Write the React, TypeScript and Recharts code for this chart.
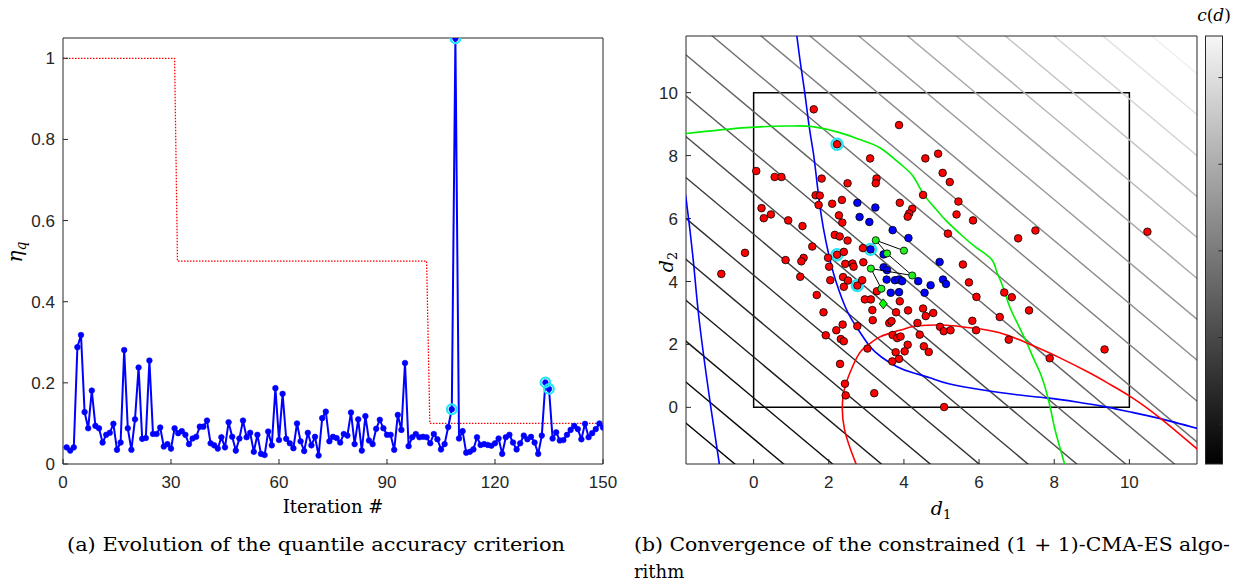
import React from 'react';
import { ComposedChart, Line, Scatter, XAxis, YAxis, ReferenceLine, ReferenceArea } from 'recharts';

// ---------- (a) quantile accuracy criterion ----------
// eta_q for iterations 1..150
const etaValues = [
  0.041, 0.033, 0.041, 0.288, 0.318, 0.128, 0.088, 0.181, 0.094, 0.088,
  0.053, 0.072, 0.077, 0.099, 0.035, 0.053, 0.281, 0.088, 0.035, 0.110,
  0.238, 0.062, 0.064, 0.255, 0.074, 0.074, 0.090, 0.043, 0.049, 0.038,
  0.088, 0.076, 0.081, 0.072, 0.049, 0.063, 0.067, 0.092, 0.092, 0.107,
  0.051, 0.046, 0.038, 0.066, 0.041, 0.103, 0.067, 0.033, 0.063, 0.107,
  0.066, 0.077, 0.030, 0.072, 0.025, 0.022, 0.080, 0.046, 0.187, 0.059,
  0.173, 0.062, 0.051, 0.039, 0.100, 0.056, 0.032, 0.077, 0.046, 0.067,
  0.021, 0.113, 0.129, 0.056, 0.067, 0.064, 0.053, 0.074, 0.070, 0.127,
  0.049, 0.110, 0.033, 0.118, 0.058, 0.049, 0.087, 0.109, 0.088, 0.072,
  0.072, 0.035, 0.121, 0.084, 0.249, 0.044, 0.066, 0.074, 0.066, 0.067,
  0.066, 0.051, 0.074, 0.061, 0.036, 0.049, 0.091, 0.135, 1.049, 0.063,
  0.081, 0.028, 0.030, 0.036, 0.066, 0.047, 0.049, 0.047, 0.045, 0.051,
  0.063, 0.025, 0.066, 0.072, 0.053, 0.036, 0.051, 0.070, 0.061, 0.067,
  0.053, 0.025, 0.070, 0.201, 0.185, 0.063, 0.078, 0.058, 0.059, 0.072,
  0.084, 0.094, 0.086, 0.061, 0.099, 0.066, 0.076, 0.086, 0.100, 0.090,
];
const highlightedIters = [108, 109, 134, 135];

// red dotted target level
const targetIters = [0, 31, 31.8, 101, 101.9, 150];
const targetLevels = [1, 1, 0.5, 0.5, 0.1, 0.1];

const iterTicks = [0, 30, 60, 90, 120, 150];
const etaTicks = [0, 0.2, 0.4, 0.6, 0.8, 1];

// ---------- (b) constrained (1+1)-CMA-ES ----------
const dTicks = [0, 2, 4, 6, 8, 10];
// contour levels of c(d) = d1 + d2
const costLevels = [-2.3, -1.0, 0.3, 1.6, 2.9, 4.2, 5.5, 6.8, 8.1, 9.4, 10.7, 12.0, 13.3, 14.6, 15.9, 17.2, 18.5, 19.8, 21.1, 22.4];
const colorbarTicks = [0, 5, 10, 15, 20];

// limit-state curves
const blueCurveMain = [
  [1.14, 11.9], [1.25, 10.9], [1.36, 10.0], [1.49, 8.83], [1.6, 8.0], [1.69, 7.1], [1.8, 6.1], [1.92, 5.3],
  [2.05, 4.6], [2.2, 3.97], [2.47, 3.11], [2.74, 2.55], [3.09, 1.94], [3.4, 1.6], [3.8, 1.3], [4.24, 1.1],
  [4.69, 0.94], [5.22, 0.74], [6.1, 0.55], [7.0, 0.4], [7.8, 0.3], [8.6, 0.17], [9.3, 0.03], [10.0, -0.14],
  [10.8, -0.35], [11.9, -0.7],
];
const blueCurveLeft = [[-1.86, 7.0], [-1.79, 6.55], [-1.6, 4.59], [-1.44, 2.68], [-1.13, -0.07], [-0.9, -1.9]];
const greenCurve = [
  [-1.9, 8.69], [-0.19, 8.89], [0.96, 8.94], [1.57, 8.92], [2.29, 8.73], [2.85, 8.5], [3.36, 8.25], [3.89, 7.75],
  [4.24, 7.35], [4.51, 6.8], [4.85, 6.3], [5.15, 5.9], [5.49, 5.52], [5.9, 5.1], [6.32, 4.72], [6.46, 4.35],
  [6.58, 4.0], [6.7, 3.6], [6.83, 3.15], [7.05, 2.6], [7.27, 2.05], [7.47, 1.5], [7.64, 1.05], [7.8, 0.45],
  [7.93, -0.2], [8.03, -0.75], [8.3, -1.9],
];
const redCurve = [
  [2.76, -1.9], [2.42, -0.71], [2.38, 0.35], [2.56, 1.09], [2.82, 1.73], [3.05, 1.98], [3.36, 2.24], [3.89, 2.45],
  [4.24, 2.57], [4.6, 2.61], [5.13, 2.61], [5.76, 2.53], [6.55, 2.37], [7.4, 1.98], [8.07, 1.62], [8.95, 1.09],
  [9.5, 0.72], [10.02, 0.35], [10.82, -0.34], [11.9, -1.42],
];

// samples
const redSamples = [
  [1.6, 9.47], [2.22, 8.36], [3.1, 7.91], [0.07, 7.51], [0.56, 7.32], [0.74, 7.32], [1.81, 7.27], [2.5, 7.12],
  [1.65, 6.74], [1.76, 6.73], [1.73, 6.43], [2.35, 6.59], [2.09, 6.47], [0.21, 6.33], [0.27, 6.01], [0.46, 6.13],
  [0.92, 5.94], [1.3, 5.76], [2.27, 6.1], [2.36, 5.87], [2.16, 5.48], [2.29, 5.43], [2.5, 5.3], [-0.23, 4.91],
  [1.56, 5.11], [1.33, 4.75], [1.98, 4.75], [2.22, 4.85], [2.4, 4.94], [2.91, 5.06], [0.85, 4.68], [1.27, 4.64],
  [1.24, 4.15], [2.01, 4.47], [2.44, 4.56], [2.63, 4.57], [2.66, 4.47], [2.92, 4.61], [2.04, 4.04], [2.38, 4.14],
  [2.51, 4.03], [2.4, 3.83], [2.76, 3.87], [2.89, 4.04], [1.68, 3.57], [2.96, 3.43], [1.86, 3.02], [2.37, 2.63],
  [2.2, 2.45], [2.76, 2.58], [1.92, 2.29], [2.32, 2.17], [2.4, 2.1], [3.03, 1.87], [2.3, 1.38], [2.43, 0.75],
  [2.45, 0.38], [-0.86, 4.24], [3.21, 0.45], [3.87, 8.97], [4.57, 7.91], [4.91, 8.06], [5.03, 7.45], [5.22, 7.16],
  [3.27, 7.27], [3.25, 7.12], [4.51, 6.75], [5.45, 6.54], [3.89, 6.5], [4.22, 6.31], [4.14, 6.16], [4.1, 6.06],
  [5.4, 6.13], [5.84, 5.94], [5.17, 5.52], [3.28, 3.69], [3.12, 3.43], [3.16, 3.09], [3.17, 2.77], [3.89, 3.37],
  [3.79, 3.02], [4.11, 3.08], [4.51, 3.14], [4.78, 3.0], [4.58, 2.9], [3.61, 2.68], [3.67, 2.74], [4.36, 2.68],
  [3.7, 2.3], [3.82, 2.2], [3.91, 2.25], [4.42, 2.31], [4.1, 1.99], [4.02, 1.78], [3.78, 1.75], [3.87, 1.54],
  [3.69, 1.46], [4.53, 1.94], [4.66, 1.76], [5.07, 0.01], [4.96, 2.56], [5.06, 2.42], [5.24, 2.45], [5.57, 4.54],
  [5.73, 3.97], [5.93, 3.51], [5.82, 2.75], [5.92, 2.45], [6.55, 2.87], [7.04, 5.37], [7.5, 5.62], [10.48, 5.58],
  [6.67, 3.65], [6.87, 3.5], [7.33, 3.08], [6.79, 2.15], [7.88, 1.56], [9.34, 1.84],
];
const blueSamples = [
  [2.76, 6.5], [3.24, 6.35], [2.82, 6.05], [3.08, 5.89], [3.7, 5.63], [4.12, 5.38], [3.11, 5.02], [3.46, 4.86],
  [3.46, 4.45], [3.55, 4.36], [3.54, 4.06], [3.76, 4.04], [3.86, 4.06], [3.95, 4.01], [4.38, 4.01], [4.71, 3.88],
  [3.65, 3.64], [3.87, 3.66], [4.55, 3.64], [4.95, 4.62], [5.04, 4.06], [5.12, 3.92],
];
// successive parents (green), joined in order
const parentPath = [[4.0, 4.98], [3.25, 5.31], [3.55, 4.89], [4.22, 4.19], [3.12, 4.41], [3.4, 3.77]];
const finalPoint = [[3.45, 3.29]];
const cyanSamples = [[2.22, 8.36], [2.22, 4.85], [2.76, 3.87], [3.11, 5.02]];

// ---------- tables for recharts ----------
const etaData = etaValues.map((v, i) => ({ x: i + 1, y: v }));
const targetData = targetIters.map((x, i) => ({ x, y: targetLevels[i] }));
const highlightData = highlightedIters.map((it) => ({ x: it, y: etaValues[it - 1] }));
const pts = (a: number[][]) => a.map(([x, y]) => ({ x, y }));

const AX = '#262626';
const tickStyle = { fontSize: 17, fill: AX, fontFamily: '"Liberation Sans", Arial, Helvetica, sans-serif' };
const SERIF = '"DejaVu Serif", "Liberation Serif", serif';
const CB_MIN = -2.3;
const CB_MAX = 22.4;
const grayOf = (c: number) => {
  const t = (c - CB_MIN) / (CB_MAX - CB_MIN);
  const g = Math.round(240 * Math.pow(t, 1.2));
  return `rgb(${g},${g},${g})`;
};

const nothing = () => <g />;
const circleShape = (fill: string, r: number) => (p: any) => (
  <circle cx={p.cx} cy={p.cy} r={r} fill={fill} stroke="#000" strokeWidth={0.8} />
);
const ringShape = (r: number) => (p: any) => (
  <circle cx={p.cx} cy={p.cy} r={r} fill="none" stroke="#22e6f5" strokeWidth={2.2} />
);
const diamondShape = (p: any) => (
  <path d={`M${p.cx},${p.cy - 5}L${p.cx + 4},${p.cy}L${p.cx},${p.cy + 5}L${p.cx - 4},${p.cy}Z`} fill="#00ff00" stroke="#000" strokeWidth={0.8} />
);
const blueDot = (p: any) => <circle key={`d${p.index}`} cx={p.cx} cy={p.cy} r={2.8} fill="#0000ff" stroke="#0000ff" strokeWidth={0.6} />;

const CB_TOP = 36;
const CB_H = 428;
const cbY = (c: number) => CB_TOP + CB_H - (c - CB_MIN) / (CB_MAX - CB_MIN) * CB_H;

export default function App() {
  return (
    <div style={{ position: 'absolute', left: 0, top: 0, width: 1242, height: 583, background: '#fff', overflow: 'hidden' }}>
      <div style={{ position: 'absolute', left: 0, top: 0 }}>
        <ComposedChart width={620} height={583} data={etaData} margin={{ top: 37, right: 16, bottom: 89, left: 0 }}>
          <XAxis dataKey="x" type="number" domain={[0, 150]} ticks={iterTicks} interval={0} allowDataOverflow
            tickSize={-5} tickMargin={17} height={30} stroke={AX} tick={tickStyle} />
          <XAxis xAxisId="top" orientation="top" dataKey="x" type="number" domain={[0, 150]} ticks={iterTicks}
            interval={0} allowDataOverflow tick={false} tickSize={-5} height={1} stroke={AX} />
          <YAxis dataKey="y" type="number" domain={[0, 1.05]} ticks={etaTicks} interval={0} allowDataOverflow
            tickSize={-5} tickMargin={13} width={63} stroke={AX} tick={tickStyle} tickFormatter={(v: number) => String(v)} />
          <YAxis yAxisId="right" orientation="right" type="number" domain={[0, 1.05]} ticks={etaTicks} interval={0}
            allowDataOverflow tick={false} tickSize={-5} width={1} stroke={AX} />
          <Line data={targetData} dataKey="y" stroke="#ff0000" strokeWidth={1.3} strokeDasharray="1.5 1.5"
            dot={false} activeDot={false} isAnimationActive={false} />
          <Line data={etaData} dataKey="y" stroke="#0000ff" strokeWidth={2} dot={blueDot} activeDot={false}
            isAnimationActive={false} />
          <Scatter data={highlightData} dataKey="y" shape={ringShape(4.8)} isAnimationActive={false} />
        </ComposedChart>
      </div>

      <div style={{ position: 'absolute', left: 600, top: 0 }}>
        <ComposedChart width={620} height={583} margin={{ top: 35, right: 22, bottom: 89, left: 0 }}>
          <XAxis dataKey="x" type="number" domain={[-1.8, 11.8]} ticks={dTicks} interval={0} allowDataOverflow
            tickSize={-5} tickMargin={17} height={30} stroke={AX} tick={tickStyle} />
          <XAxis xAxisId="top" orientation="top" dataKey="x" type="number" domain={[-1.8, 11.8]} ticks={dTicks}
            interval={0} allowDataOverflow tick={false} tickSize={-5} height={1} stroke={AX} />
          <YAxis dataKey="y" type="number" domain={[-1.8, 11.8]} ticks={dTicks} interval={0} allowDataOverflow
            tickSize={-5} tickMargin={13} width={86} stroke={AX} tick={tickStyle} />
          <YAxis yAxisId="right" orientation="right" type="number" domain={[-1.8, 11.8]} ticks={dTicks} interval={0}
            allowDataOverflow tick={false} tickSize={-5} width={1} stroke={AX} />
          {costLevels.map((c) => (
            <ReferenceLine key={c} segment={[{ x: -4, y: c + 4 }, { x: c + 4, y: -4 }]} stroke={grayOf(c)}
              strokeWidth={1.4} ifOverflow="hidden" />
          ))}
          <ReferenceArea x1={0} x2={10} y1={0} y2={10} fill="none" fillOpacity={0} stroke="#000" strokeWidth={1.5} />
          <Scatter data={pts(blueCurveLeft)} dataKey="y" shape={nothing} line={{ stroke: '#0000ff', strokeWidth: 1.6 }}
            lineJointType="natural" isAnimationActive={false} />
          <Scatter data={pts(blueCurveMain)} dataKey="y" shape={nothing} line={{ stroke: '#0000ff', strokeWidth: 1.6 }}
            lineJointType="natural" isAnimationActive={false} />
          <Scatter data={pts(greenCurve)} dataKey="y" shape={nothing} line={{ stroke: '#00ee00', strokeWidth: 1.6 }}
            lineJointType="natural" isAnimationActive={false} />
          <Scatter data={pts(redCurve)} dataKey="y" shape={nothing} line={{ stroke: '#ff0000', strokeWidth: 1.6 }}
            lineJointType="natural" isAnimationActive={false} />
          <Scatter data={pts(cyanSamples)} dataKey="y" shape={ringShape(5.6)} isAnimationActive={false} />
          <Scatter data={pts(redSamples)} dataKey="y" shape={circleShape('#ff0000', 3.8)} isAnimationActive={false} />
          <Scatter data={pts(blueSamples)} dataKey="y" shape={circleShape('#0000ff', 3.8)} isAnimationActive={false} />
          <Scatter data={pts(parentPath)} dataKey="y" shape={nothing} line={{ stroke: '#000', strokeWidth: 1 }}
            isAnimationActive={false} />
          <Scatter data={pts(parentPath)} dataKey="y" shape={circleShape('#22ee22', 3.6)} isAnimationActive={false} />
          <Scatter data={pts(finalPoint)} dataKey="y" shape={diamondShape} isAnimationActive={false} />
        </ComposedChart>
      </div>

      <svg width={1242} height={583} style={{ position: 'absolute', left: 0, top: 0, pointerEvents: 'none' }}>
        <defs>
          <linearGradient id="cbGrad" x1="0" y1="1" x2="0" y2="0">
            <stop offset="0%" stopColor="#000" />
            <stop offset="100%" stopColor="#f6f6f6" />
          </linearGradient>
        </defs>
        {/* colorbar */}
        <rect x={1205.5} y={CB_TOP} width={17} height={CB_H} fill="url(#cbGrad)" stroke={AX} strokeWidth={1} />
        {colorbarTicks.map((c) => (
          <line key={c} x1={1222.5} x2={1218.5} y1={cbY(c)} y2={cbY(c)} stroke={AX} strokeWidth={1} />
        ))}
        <text x={1214} y={21} textAnchor="middle" fontFamily={SERIF} fontSize={17} fill="#000">
          <tspan fontStyle="italic">c</tspan>(<tspan fontStyle="italic">d</tspan>)
        </text>

        {/* axis labels */}
        <text x={333} y={513} textAnchor="middle" fontFamily={SERIF} fontSize={18} fill="#000">Iteration #</text>
        <text transform="translate(22,252) rotate(-90)" textAnchor="middle" fontFamily={SERIF} fontSize={20} fill="#000">
          <tspan fontStyle="italic">η</tspan><tspan fontStyle="italic" fontSize={14} dy={4}>q</tspan>
        </text>
        <text x={941} y={515} textAnchor="middle" fontFamily={SERIF} fontSize={19} fill="#000">
          <tspan fontStyle="italic">d</tspan><tspan fontSize={13} dy={4}>1</tspan>
        </text>
        <text transform="translate(673,262) rotate(-90)" textAnchor="middle" fontFamily={SERIF} fontSize={19} fill="#000">
          <tspan fontStyle="italic">d</tspan><tspan fontSize={13} dy={4}>2</tspan>
        </text>

        {/* captions */}
        <text x={67} y={551} fontFamily={SERIF} fontSize={18} fill="#000" textLength={498} lengthAdjust="spacingAndGlyphs">
          (a) Evolution of the quantile accuracy criterion
        </text>
        <text x={634} y={551} fontFamily={SERIF} fontSize={18} fill="#000" textLength={596} lengthAdjust="spacingAndGlyphs">
          (b) Convergence of the constrained (1 + 1)-CMA-ES algo-
        </text>
        <text x={634} y={578} fontFamily={SERIF} fontSize={18} fill="#000">rithm</text>
      </svg>
    </div>
  );
}
